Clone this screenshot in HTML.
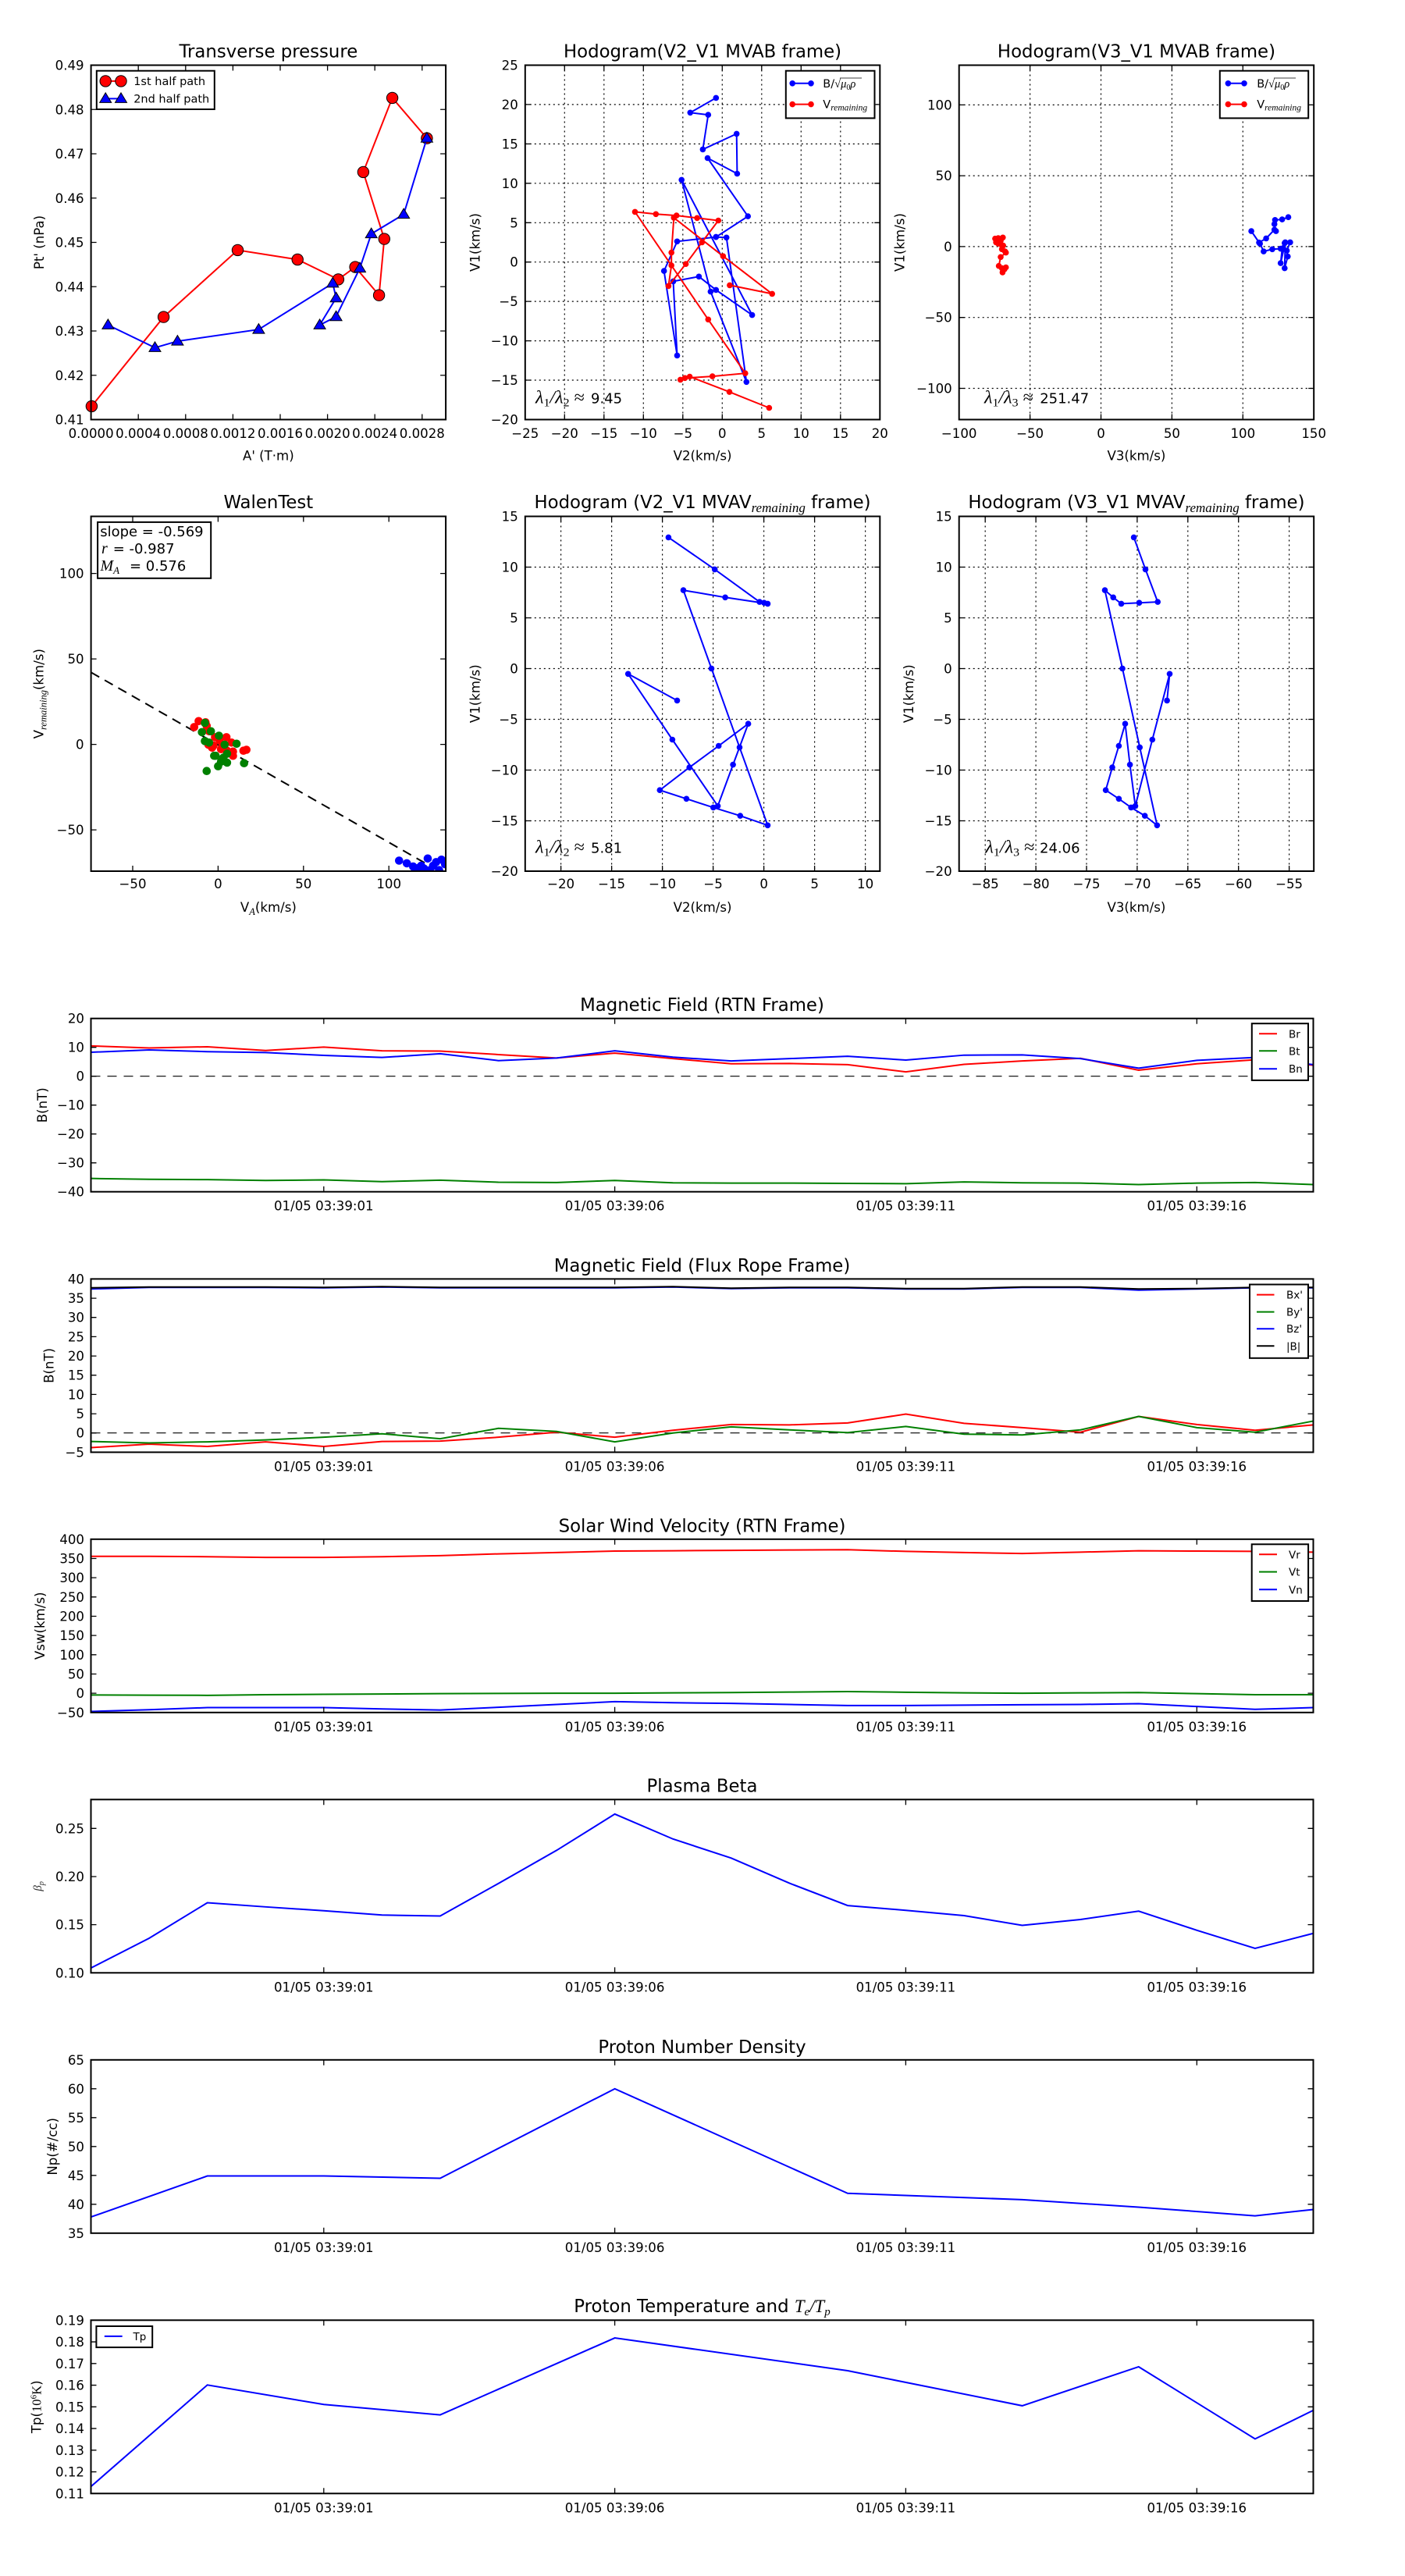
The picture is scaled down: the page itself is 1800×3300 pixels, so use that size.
<!DOCTYPE html>
<html><head><meta charset="utf-8"><style>html,body{margin:0;padding:0;background:#fff}svg{display:block}</style></head><body>
<svg xmlns="http://www.w3.org/2000/svg" width="1800" height="3300" viewBox="0 0 1800 3300" font-family="DejaVu Sans, Liberation Sans, sans-serif" font-size="16.6" fill="#000">
<defs>
<marker id="mc" markerUnits="userSpaceOnUse" markerWidth="20" markerHeight="20" refX="10" refY="10"><circle cx="10" cy="10" r="7.2" fill="#f00" stroke="#000" stroke-width="1"/></marker>
<marker id="mt" markerUnits="userSpaceOnUse" markerWidth="20" markerHeight="20" refX="10" refY="10"><polygon points="10,2.5 17.5,15 2.5,15" fill="#00f" stroke="#000" stroke-width="1"/></marker>
<marker id="db" markerUnits="userSpaceOnUse" markerWidth="10" markerHeight="10" refX="5" refY="5"><circle cx="5" cy="5" r="3.8" fill="#00f"/></marker>
<marker id="dr" markerUnits="userSpaceOnUse" markerWidth="10" markerHeight="10" refX="5" refY="5"><circle cx="5" cy="5" r="3.8" fill="#f00"/></marker>
<clipPath id="cw"><rect x="116.6" y="661.5" width="454.5" height="454.5"/></clipPath>
</defs>
<rect width="1800" height="3300" fill="#fff"/>

<!-- ============ ROW 1 ============ -->
<text x="343.85" y="73.6" font-size="22.8" text-anchor="middle">Transverse pressure</text>
<polyline fill="none" stroke="#f00" stroke-width="2" marker-start="url(#mc)" marker-mid="url(#mc)" marker-end="url(#mc)" points="117.4,520.4 209.6,406.1 304.5,320.4 381.2,332.5 433.4,357.9 455.1,342.1 485.6,378.2 492.3,306.1 465.4,220.4 502.6,125.4 546.9,177.1"/>
<polyline fill="none" stroke="#00f" stroke-width="2" marker-start="url(#mt)" marker-mid="url(#mt)" marker-end="url(#mt)" points="546.9,177.1 517.2,274.6 475.7,299.6 461.0,343.6 430.6,405.7 409.6,416.4 430.6,381.8 426.3,362.9 331.4,422.1 227.4,437.1 198.5,445.4 138.4,416.4"/>
<path stroke="#000" stroke-width="1.3" fill="none" d="M177.2 537.5v-7M237.8 537.5v-7M298.4 537.5v-7M359 537.5v-7M419.6 537.5v-7M480.2 537.5v-7M540.8 537.5v-7M177.2 83.5v7M237.8 83.5v7M298.4 83.5v7M359 83.5v7M419.6 83.5v7M480.2 83.5v7M540.8 83.5v7M116.6 140.25h7M116.6 197h7M116.6 253.75h7M116.6 310.5h7M116.6 367.25h7M116.6 424h7M116.6 480.75h7M571.1 140.25h-7M571.1 197h-7M571.1 253.75h-7M571.1 310.5h-7M571.1 367.25h-7M571.1 424h-7M571.1 480.75h-7"/>
<rect x="116.6" y="83.5" width="454.5" height="454" fill="none" stroke="#000" stroke-width="2"/>
<g text-anchor="end"><text x="107.6" y="89.5">0.49</text><text x="107.6" y="146.25">0.48</text><text x="107.6" y="203">0.47</text><text x="107.6" y="259.75">0.46</text><text x="107.6" y="316.5">0.45</text><text x="107.6" y="373.25">0.44</text><text x="107.6" y="430">0.43</text><text x="107.6" y="486.75">0.42</text><text x="107.6" y="543.5">0.41</text></g>
<g text-anchor="middle"><text x="116.6" y="561">0.0000</text><text x="177.2" y="561">0.0004</text><text x="237.8" y="561">0.0008</text><text x="298.4" y="561">0.0012</text><text x="359" y="561">0.0016</text><text x="419.6" y="561">0.0020</text><text x="480.2" y="561">0.0024</text><text x="540.8" y="561">0.0028</text></g>
<text x="343.85" y="589.5" text-anchor="middle">A' (T·m)</text>
<text transform="translate(56,310.5) rotate(-90)" text-anchor="middle">Pt' (nPa)</text>
<rect x="123.8" y="90.7" width="151" height="49.3" fill="#fff" stroke="#000" stroke-width="2"/>
<polyline fill="none" stroke="#f00" stroke-width="2" marker-start="url(#mc)" marker-end="url(#mc)" points="135.2,103.9 155,103.9"/>
<polyline fill="none" stroke="#00f" stroke-width="2" marker-start="url(#mt)" marker-end="url(#mt)" points="135.2,126.4 155,126.4"/>
<text x="171.2" y="109" font-size="14.5">1st half path</text>
<text x="171.2" y="131.5" font-size="14.5">2nd half path</text>

<!-- Hodogram V2_V1 MVAB -->
<text x="900.05" y="73.6" font-size="22.8" text-anchor="middle">Hodogram(V2_V1 MVAB frame)</text>
<path stroke="#000" stroke-width="1.2" stroke-dasharray="2,4" fill="none" d="M723.3 83.5V537.5M773.8 83.5V537.5M824.3 83.5V537.5M874.8 83.5V537.5M925.3 83.5V537.5M975.8 83.5V537.5M1026.3 83.5V537.5M1076.8 83.5V537.5M672.8 133.9H1127.3M672.8 184.4H1127.3M672.8 234.8H1127.3M672.8 285.3H1127.3M672.8 335.7H1127.3M672.8 386.1H1127.3M672.8 436.6H1127.3M672.8 487H1127.3"/>
<polyline fill="none" stroke="#00f" stroke-width="2" marker-start="url(#db)" marker-mid="url(#db)" marker-end="url(#db)" points="917.3,125.4 884.3,144.3 907.3,147.1 900.4,191.4 943.7,171.4 944.4,222.5 906.5,202.5 958.2,277.1 917.3,303.6 930.7,304.3 956.3,489.3 910.4,373.6 873.2,230.4 963.6,403.6 917.3,371.4 895.4,354.3 862.5,360.4 867.5,455.4 850.7,347.1 867.5,309.3 917.3,303.6"/>
<polyline fill="none" stroke="#f00" stroke-width="2" marker-start="url(#dr)" marker-mid="url(#dr)" marker-end="url(#dr)" points="985.4,522.5 934.5,502.1 883.6,482.5 871.7,486.4 877.5,484.3 912.7,482.1 954.8,478.2 907.3,409.3 813.5,271.4 840.3,274.3 866.7,276.1 893.1,279.3 920.3,282.5 899.3,310.4 878.6,338.2 856.4,366.4 860.2,340 860.2,323.6 863.3,278.9 926.4,328.2 989.2,376.4 934.9,365.4"/>
<path stroke="#000" stroke-width="1.3" fill="none" d="M723.3 537.5v-7M773.8 537.5v-7M824.3 537.5v-7M874.8 537.5v-7M925.3 537.5v-7M975.8 537.5v-7M1026.3 537.5v-7M1076.8 537.5v-7M723.3 83.5v7M773.8 83.5v7M824.3 83.5v7M874.8 83.5v7M925.3 83.5v7M975.8 83.5v7M1026.3 83.5v7M1076.8 83.5v7M672.8 133.9h7M672.8 184.4h7M672.8 234.8h7M672.8 285.3h7M672.8 335.7h7M672.8 386.1h7M672.8 436.6h7M672.8 487h7M1127.3 133.9h-7M1127.3 184.4h-7M1127.3 234.8h-7M1127.3 285.3h-7M1127.3 335.7h-7M1127.3 386.1h-7M1127.3 436.6h-7M1127.3 487h-7"/>
<rect x="672.8" y="83.5" width="454.5" height="454" fill="none" stroke="#000" stroke-width="2"/>
<g text-anchor="end"><text x="663.8" y="89.5">25</text><text x="663.8" y="139.9">20</text><text x="663.8" y="190.4">15</text><text x="663.8" y="240.8">10</text><text x="663.8" y="291.3">5</text><text x="663.8" y="341.7">0</text><text x="663.8" y="392.1">−5</text><text x="663.8" y="442.6">−10</text><text x="663.8" y="493">−15</text><text x="663.8" y="543.5">−20</text></g>
<g text-anchor="middle"><text x="672.8" y="561">−25</text><text x="723.3" y="561">−20</text><text x="773.8" y="561">−15</text><text x="824.3" y="561">−10</text><text x="874.8" y="561">−5</text><text x="925.3" y="561">0</text><text x="975.8" y="561">5</text><text x="1026.3" y="561">10</text><text x="1076.8" y="561">15</text><text x="1127.3" y="561">20</text></g>
<text x="900.05" y="589.5" text-anchor="middle">V2(km/s)</text>
<text transform="translate(614.5,310.5) rotate(-90)" text-anchor="middle">V1(km/s)</text>
<text x="686" y="516.5" font-family="Liberation Serif" font-size="23" textLength="63" lengthAdjust="spacingAndGlyphs"><tspan font-style="italic">λ</tspan><tspan font-size="15" dy="4">1</tspan><tspan font-style="italic" dy="-4">/λ</tspan><tspan font-size="15" dy="4">2</tspan><tspan dy="-4"> ≈</tspan></text>
<text x="757" y="516.5" font-size="18">9.45</text>
<rect x="1006.8" y="90.7" width="113.7" height="60.7" fill="#fff" stroke="#000" stroke-width="2"/>
<polyline fill="none" stroke="#00f" stroke-width="2" marker-start="url(#db)" marker-end="url(#db)" points="1015.2,106.8 1039,106.8"/>
<polyline fill="none" stroke="#f00" stroke-width="2" marker-start="url(#dr)" marker-end="url(#dr)" points="1015.2,133.6 1039,133.6"/>
<text x="1054.3" y="112" font-size="14.5">B/<tspan font-family="Liberation Serif">√</tspan><tspan font-family="Liberation Serif" font-style="italic">μ</tspan><tspan font-family="Liberation Serif" font-size="10" dy="3">0</tspan><tspan font-family="Liberation Serif" font-style="italic" dy="-3">ρ</tspan></text>
<line x1="1076" y1="100" x2="1104" y2="100" stroke="#000" stroke-width="0.8"/>
<text x="1054.3" y="138.6" font-size="14.5">V<tspan font-family="Liberation Serif" font-style="italic" font-size="11.5" dy="3">remaining</tspan></text>

<!-- Hodogram V3_V1 MVAB -->
<text x="1455.95" y="73.6" font-size="22.8" text-anchor="middle">Hodogram(V3_V1 MVAB frame)</text>
<path stroke="#000" stroke-width="1.2" stroke-dasharray="2,4" fill="none" d="M1319.6 83.5V537.5M1410.5 83.5V537.5M1501.4 83.5V537.5M1592.3 83.5V537.5M1228.7 134.35H1683.2M1228.7 225.1H1683.2M1228.7 315.9H1683.2M1228.7 406.7H1683.2M1228.7 497.5H1683.2"/>
<polyline fill="none" stroke="#00f" stroke-width="2" marker-start="url(#db)" marker-mid="url(#db)" marker-end="url(#db)" points="1650.5,278.2 1642.6,281.1 1633.5,281.8 1632.7,287.1 1634.7,296.1 1632.7,294.3 1622.1,305.4 1613,310.7 1603.1,296.1 1614.2,312.1 1618.9,322.1 1630,319.3 1640.7,318.6 1645.8,311.4 1652.9,310.4 1648.6,321.1 1649.8,328.6 1645.8,343.6 1646.6,310.4 1640.7,337.1 1642.6,318.6"/>
<polyline fill="none" stroke="#f00" stroke-width="2" marker-start="url(#dr)" marker-mid="url(#dr)" marker-end="url(#dr)" points="1284.8,304.3 1274.9,305.7 1278.9,305 1276.1,310.4 1282,308.6 1285.2,314.6 1278.9,312.1 1283.6,319.3 1287.6,322.1 1288.7,323.6 1282,329.3 1279.6,340.7 1283.6,343.6 1288.7,342.5 1284.4,348.9 1286.8,345"/>
<path stroke="#000" stroke-width="1.3" fill="none" d="M1319.6 537.5v-7M1410.5 537.5v-7M1501.4 537.5v-7M1592.3 537.5v-7M1319.6 83.5v7M1410.5 83.5v7M1501.4 83.5v7M1592.3 83.5v7M1228.7 134.35h7M1228.7 225.1h7M1228.7 315.9h7M1228.7 406.7h7M1228.7 497.5h7M1683.2 134.35h-7M1683.2 225.1h-7M1683.2 315.9h-7M1683.2 406.7h-7M1683.2 497.5h-7"/>
<rect x="1228.7" y="83.5" width="454.5" height="454" fill="none" stroke="#000" stroke-width="2"/>
<g text-anchor="end"><text x="1219.7" y="140.35">100</text><text x="1219.7" y="231.1">50</text><text x="1219.7" y="321.9">0</text><text x="1219.7" y="412.7">−50</text><text x="1219.7" y="503.5">−100</text></g>
<g text-anchor="middle"><text x="1228.7" y="561">−100</text><text x="1319.6" y="561">−50</text><text x="1410.5" y="561">0</text><text x="1501.4" y="561">50</text><text x="1592.3" y="561">100</text><text x="1683.2" y="561">150</text></g>
<text x="1455.95" y="589.5" text-anchor="middle">V3(km/s)</text>
<text transform="translate(1158.7,310.5) rotate(-90)" text-anchor="middle">V1(km/s)</text>
<text x="1261" y="516.5" font-family="Liberation Serif" font-size="23" textLength="63" lengthAdjust="spacingAndGlyphs"><tspan font-style="italic">λ</tspan><tspan font-size="15" dy="4">1</tspan><tspan font-style="italic" dy="-4">/λ</tspan><tspan font-size="15" dy="4">3</tspan><tspan dy="-4"> ≈</tspan></text>
<text x="1332.2" y="516.5" font-size="18">251.47</text>
<rect x="1562.8" y="90.7" width="113.4" height="60.7" fill="#fff" stroke="#000" stroke-width="2"/>
<polyline fill="none" stroke="#00f" stroke-width="2" marker-start="url(#db)" marker-end="url(#db)" points="1573.4,106.8 1594,106.8"/>
<polyline fill="none" stroke="#f00" stroke-width="2" marker-start="url(#dr)" marker-end="url(#dr)" points="1573.4,133.6 1594,133.6"/>
<text x="1610.2" y="112" font-size="14.5">B/<tspan font-family="Liberation Serif">√</tspan><tspan font-family="Liberation Serif" font-style="italic">μ</tspan><tspan font-family="Liberation Serif" font-size="10" dy="3">0</tspan><tspan font-family="Liberation Serif" font-style="italic" dy="-3">ρ</tspan></text>
<line x1="1632" y1="100" x2="1660" y2="100" stroke="#000" stroke-width="0.8"/>
<text x="1610.2" y="138.6" font-size="14.5">V<tspan font-family="Liberation Serif" font-style="italic" font-size="11.5" dy="3">remaining</tspan></text>

<!-- ============ ROW 2 ============ -->
<text x="343.85" y="651" font-size="22.8" text-anchor="middle">WalenTest</text>
<g clip-path="url(#cw)">
<line x1="116.7" y1="861.4" x2="562.6" y2="1115.9" stroke="#000" stroke-width="2" stroke-dasharray="12,8"/>
<g fill="#f00"><circle cx="248.8" cy="931.4" r="5.3"/><circle cx="254.5" cy="923.8" r="5.3"/><circle cx="263.3" cy="925.3" r="5.3"/><circle cx="264.8" cy="929.9" r="5.3"/><circle cx="271.7" cy="957.8" r="5.3"/><circle cx="273.6" cy="955.1" r="5.3"/><circle cx="281.3" cy="948.3" r="5.3"/><circle cx="290.1" cy="944.4" r="5.3"/><circle cx="296.6" cy="951.3" r="5.3"/><circle cx="298.5" cy="968.2" r="5.3"/><circle cx="298.5" cy="962.8" r="5.3"/><circle cx="311.9" cy="961.7" r="5.3"/><circle cx="315.7" cy="960.5" r="5.3"/><circle cx="267.9" cy="936.8" r="5.3"/><circle cx="285.1" cy="955.9" r="5.3"/><circle cx="290.9" cy="961.7" r="5.3"/><circle cx="283.2" cy="959.7" r="5.3"/><circle cx="275.5" cy="944.4" r="5.3"/><circle cx="267.1" cy="954" r="5.3"/></g>
<g fill="#008000"><circle cx="262.5" cy="926.1" r="5.3"/><circle cx="258.7" cy="937.9" r="5.3"/><circle cx="270.2" cy="936.8" r="5.3"/><circle cx="280.5" cy="942.5" r="5.3"/><circle cx="262.5" cy="949.4" r="5.3"/><circle cx="267.9" cy="951.3" r="5.3"/><circle cx="287.8" cy="954" r="5.3"/><circle cx="303.1" cy="952.8" r="5.3"/><circle cx="274.4" cy="968.2" r="5.3"/><circle cx="276.3" cy="968.2" r="5.3"/><circle cx="290.9" cy="965.5" r="5.3"/><circle cx="286.3" cy="970.5" r="5.3"/><circle cx="290.9" cy="977" r="5.3"/><circle cx="279.4" cy="981.6" r="5.3"/><circle cx="312.7" cy="977.7" r="5.3"/><circle cx="264.8" cy="987.7" r="5.3"/><circle cx="283.2" cy="975.8" r="5.3"/></g>
<g fill="#00f"><circle cx="511.3" cy="1102.5" r="5.3"/><circle cx="521.2" cy="1105.9" r="5.3"/><circle cx="529.3" cy="1110.1" r="5.3"/><circle cx="535.8" cy="1112" r="5.3"/><circle cx="548" cy="1099.8" r="5.3"/><circle cx="558.7" cy="1104.4" r="5.3"/><circle cx="565.6" cy="1101.3" r="5.3"/><circle cx="570.2" cy="1107.1" r="5.3"/><circle cx="543.4" cy="1112.8" r="5.3"/><circle cx="554.9" cy="1109" r="5.3"/><circle cx="562.6" cy="1114.7" r="5.3"/><circle cx="551.1" cy="1114.7" r="5.3"/><circle cx="532" cy="1114.7" r="5.3"/><circle cx="539.6" cy="1109" r="5.3"/></g>
</g>
<path stroke="#000" stroke-width="1.3" fill="none" d="M170 1116v-7M279.4 1116v-7M388.8 1116v-7M498.2 1116v-7M170 661.5v7M279.4 661.5v7M388.8 661.5v7M498.2 661.5v7M116.6 734.6h7M116.6 844.1h7M116.6 953.6h7M116.6 1063.1h7M571.1 734.6h-7M571.1 844.1h-7M571.1 953.6h-7M571.1 1063.1h-7"/>
<rect x="116.6" y="661.5" width="454.5" height="454.5" fill="none" stroke="#000" stroke-width="2"/>
<g text-anchor="end"><text x="107.6" y="740.6">100</text><text x="107.6" y="850.1">50</text><text x="107.6" y="959.6">0</text><text x="107.6" y="1069.1">−50</text></g>
<g text-anchor="middle"><text x="170" y="1138">−50</text><text x="279.4" y="1138">0</text><text x="388.8" y="1138">50</text><text x="498.2" y="1138">100</text></g>
<text x="343.85" y="1168" text-anchor="middle">V<tspan font-family="Liberation Serif" font-style="italic" font-size="12.5" dy="4">A</tspan><tspan dy="-4">(km/s)</tspan></text>
<text transform="translate(55.5,888.7) rotate(-90)" text-anchor="middle">V<tspan font-family="Liberation Serif" font-style="italic" font-size="12.5" dy="4">remaining</tspan><tspan dy="-4">(km/s)</tspan></text>
<rect x="125.1" y="668.9" width="145.1" height="71.9" fill="#fff" stroke="#000" stroke-width="2"/>
<text x="128.2" y="687" font-size="18">slope = -0.569</text>
<text x="130" y="709" font-size="20" font-family="Liberation Serif" font-style="italic">r</text>
<text x="144.7" y="709" font-size="18">= -0.987</text>
<text x="128.5" y="731" font-size="20" font-family="Liberation Serif" font-style="italic">M<tspan font-size="13" dy="4">A</tspan></text>
<text x="166" y="731" font-size="18">= 0.576</text>

<!-- Hodogram V2_V1 MVAV -->
<text x="900.05" y="651" font-size="22.8" text-anchor="middle">Hodogram (V2_V1 MVAV<tspan font-family="Liberation Serif" font-style="italic" font-size="17" dy="5">remaining</tspan><tspan dy="-5"> frame)</tspan></text>
<path stroke="#000" stroke-width="1.2" stroke-dasharray="2,4" fill="none" d="M718.6 661.5V1116M783.6 661.5V1116M848.6 661.5V1116M913.6 661.5V1116M978.6 661.5V1116M1043.6 661.5V1116M1108.6 661.5V1116M672.8 726.5H1127.3M672.8 791.5H1127.3M672.8 856.5H1127.3M672.8 921.5H1127.3M672.8 986.5H1127.3M672.8 1051.5H1127.3"/>
<polyline fill="none" stroke="#00f" stroke-width="2" marker-start="url(#db)" marker-mid="url(#db)" marker-end="url(#db)" points="856.4,688.4 915.7,729.4 973.1,771.1 978.9,772.2 983.5,773.4 929.1,765.3 875.5,756.1 911.5,856.4 947.5,957.4 983.5,1057.3 948.3,1045.1 913.8,1034.4 879.4,1023.3 845.3,1012.2 883.2,983.1 920.7,955.5 958.6,927.2 939.1,979.6 919.6,1032.5 861.4,947.5 804.7,863.3 867.5,897.4"/>
<path stroke="#000" stroke-width="1.3" fill="none" d="M718.6 1116v-7M783.6 1116v-7M848.6 1116v-7M913.6 1116v-7M978.6 1116v-7M1043.6 1116v-7M1108.6 1116v-7M718.6 661.5v7M783.6 661.5v7M848.6 661.5v7M913.6 661.5v7M978.6 661.5v7M1043.6 661.5v7M1108.6 661.5v7M672.8 726.5h7M672.8 791.5h7M672.8 856.5h7M672.8 921.5h7M672.8 986.5h7M672.8 1051.5h7M1127.3 726.5h-7M1127.3 791.5h-7M1127.3 856.5h-7M1127.3 921.5h-7M1127.3 986.5h-7M1127.3 1051.5h-7"/>
<rect x="672.8" y="661.5" width="454.5" height="454.5" fill="none" stroke="#000" stroke-width="2"/>
<g text-anchor="end"><text x="663.8" y="667.5">15</text><text x="663.8" y="732.5">10</text><text x="663.8" y="797.5">5</text><text x="663.8" y="862.5">0</text><text x="663.8" y="927.5">−5</text><text x="663.8" y="992.5">−10</text><text x="663.8" y="1057.5">−15</text><text x="663.8" y="1122">−20</text></g>
<g text-anchor="middle"><text x="718.6" y="1138">−20</text><text x="783.6" y="1138">−15</text><text x="848.6" y="1138">−10</text><text x="913.6" y="1138">−5</text><text x="978.6" y="1138">0</text><text x="1043.6" y="1138">5</text><text x="1108.6" y="1138">10</text></g>
<text x="900.05" y="1168" text-anchor="middle">V2(km/s)</text>
<text transform="translate(614.5,888.7) rotate(-90)" text-anchor="middle">V1(km/s)</text>
<text x="686" y="1092.5" font-family="Liberation Serif" font-size="23" textLength="63" lengthAdjust="spacingAndGlyphs"><tspan font-style="italic">λ</tspan><tspan font-size="15" dy="4">1</tspan><tspan font-style="italic" dy="-4">/λ</tspan><tspan font-size="15" dy="4">2</tspan><tspan dy="-4"> ≈</tspan></text>
<text x="757" y="1092.5" font-size="18">5.81</text>

<!-- Hodogram V3_V1 MVAV -->
<text x="1455.95" y="651" font-size="22.8" text-anchor="middle">Hodogram (V3_V1 MVAV<tspan font-family="Liberation Serif" font-style="italic" font-size="17" dy="5">remaining</tspan><tspan dy="-5"> frame)</tspan></text>
<path stroke="#000" stroke-width="1.2" stroke-dasharray="2,4" fill="none" d="M1262.2 661.5V1116M1327.1 661.5V1116M1392 661.5V1116M1456.9 661.5V1116M1521.8 661.5V1116M1586.7 661.5V1116M1651.6 661.5V1116M1228.7 726.5H1683.2M1228.7 791.5H1683.2M1228.7 856.5H1683.2M1228.7 921.5H1683.2M1228.7 986.5H1683.2M1228.7 1051.5H1683.2"/>
<polyline fill="none" stroke="#00f" stroke-width="2" marker-start="url(#db)" marker-mid="url(#db)" marker-end="url(#db)" points="1452.6,688.4 1467.5,729.4 1483.2,771.1 1459.5,772.2 1436.5,773.4 1426.2,765.3 1415.5,756.1 1438,856.4 1460.2,957.4 1482.4,1057.3 1466.7,1045.1 1449.1,1034.4 1433.4,1023.3 1416.6,1012.2 1425,983.1 1433.4,955.5 1441.5,927.2 1447.6,979.6 1454.5,1032.5 1476.3,947.5 1498.5,863.3 1495.1,897.4"/>
<path stroke="#000" stroke-width="1.3" fill="none" d="M1262.2 1116v-7M1327.1 1116v-7M1392 1116v-7M1456.9 1116v-7M1521.8 1116v-7M1586.7 1116v-7M1651.6 1116v-7M1262.2 661.5v7M1327.1 661.5v7M1392 661.5v7M1456.9 661.5v7M1521.8 661.5v7M1586.7 661.5v7M1651.6 661.5v7M1228.7 726.5h7M1228.7 791.5h7M1228.7 856.5h7M1228.7 921.5h7M1228.7 986.5h7M1228.7 1051.5h7M1683.2 726.5h-7M1683.2 791.5h-7M1683.2 856.5h-7M1683.2 921.5h-7M1683.2 986.5h-7M1683.2 1051.5h-7"/>
<rect x="1228.7" y="661.5" width="454.5" height="454.5" fill="none" stroke="#000" stroke-width="2"/>
<g text-anchor="end"><text x="1219.7" y="667.5">15</text><text x="1219.7" y="732.5">10</text><text x="1219.7" y="797.5">5</text><text x="1219.7" y="862.5">0</text><text x="1219.7" y="927.5">−5</text><text x="1219.7" y="992.5">−10</text><text x="1219.7" y="1057.5">−15</text><text x="1219.7" y="1122">−20</text></g>
<g text-anchor="middle"><text x="1262.2" y="1138">−85</text><text x="1327.1" y="1138">−80</text><text x="1392" y="1138">−75</text><text x="1456.9" y="1138">−70</text><text x="1521.8" y="1138">−65</text><text x="1586.7" y="1138">−60</text><text x="1651.6" y="1138">−55</text></g>
<text x="1455.95" y="1168" text-anchor="middle">V3(km/s)</text>
<text transform="translate(1170,888.7) rotate(-90)" text-anchor="middle">V1(km/s)</text>
<text x="1262.4" y="1092.5" font-family="Liberation Serif" font-size="23" textLength="63" lengthAdjust="spacingAndGlyphs"><tspan font-style="italic">λ</tspan><tspan font-size="15" dy="4">1</tspan><tspan font-style="italic" dy="-4">/λ</tspan><tspan font-size="15" dy="4">3</tspan><tspan dy="-4"> ≈</tspan></text>
<text x="1332" y="1092.5" font-size="18">24.06</text>

<!-- ============ TIME SERIES ============ -->
<text x="899.5" y="1295.2" font-size="22.8" text-anchor="middle">Magnetic Field (RTN Frame)</text>
<line x1="116.5" y1="1378.7" x2="1682.5" y2="1378.7" stroke="#000" stroke-width="1.2" stroke-dasharray="12,9"/>
<g transform="translate(116.5,1378.7) scale(74.571,-3.7)" fill="none" stroke-width="2">
<polyline vector-effect="non-scaling-stroke" stroke="#f00" points="0,10.5 1,9.8 2,10.2 3,8.9 4,10.1 5,8.8 6,8.7 7,7.5 8,6.3 9,8 10,6.1 11,4.3 12,4.4 13,4 14,1.5 15,4.1 16,5.3 17,6.2 18,2.1 19,4.3 20,5.7 21,3.8"/>
<polyline vector-effect="non-scaling-stroke" stroke="#008000" points="0,-35.4 1,-35.7 2,-35.8 3,-36.1 4,-35.9 5,-36.5 6,-36 7,-36.7 8,-36.8 9,-36.1 10,-36.9 11,-37 12,-37 13,-37.1 14,-37.2 15,-36.6 16,-36.9 17,-37 18,-37.5 19,-37 20,-36.8 21,-37.5"/>
<polyline vector-effect="non-scaling-stroke" stroke="#00f" points="0,8.3 1,9.1 2,8.5 3,8.2 4,7.2 5,6.5 6,7.8 7,5.4 8,6.3 9,8.8 10,6.6 11,5.3 12,6.1 13,6.9 14,5.6 15,7.3 16,7.4 17,6.1 18,2.8 19,5.5 20,6.5 21,4"/>
</g>
<path stroke="#000" stroke-width="1.3" fill="none" d="M414.8 1526.7v-7M787.6 1526.7v-7M1160.4 1526.7v-7M1533.3 1526.7v-7M414.8 1304.7v7M787.6 1304.7v7M1160.4 1304.7v7M1533.3 1304.7v7M116.5 1341.7h7M116.5 1378.7h7M116.5 1415.7h7M116.5 1452.7h7M116.5 1489.7h7M1682.5 1341.7h-7M1682.5 1378.7h-7M1682.5 1415.7h-7M1682.5 1452.7h-7M1682.5 1489.7h-7"/>
<rect x="116.5" y="1304.7" width="1566" height="222" fill="none" stroke="#000" stroke-width="2"/>
<g text-anchor="end"><text x="108" y="1310.7">20</text><text x="108" y="1347.7">10</text><text x="108" y="1384.7">0</text><text x="108" y="1421.7">−10</text><text x="108" y="1458.7">−20</text><text x="108" y="1495.7">−30</text><text x="108" y="1532.7">−40</text></g>
<g text-anchor="middle"><text x="414.8" y="1550.7">01/05 03:39:01</text><text x="787.6" y="1550.7">01/05 03:39:06</text><text x="1160.4" y="1550.7">01/05 03:39:11</text><text x="1533.3" y="1550.7">01/05 03:39:16</text></g>
<text transform="translate(60,1415.7) rotate(-90)" text-anchor="middle">B(nT)</text>
<rect x="1603.8" y="1311.2" width="72.2" height="72.7" fill="#fff" stroke="#000" stroke-width="2"/>
<path stroke-width="2" d="M1613 1324.3h23" stroke="#f00"/><path stroke-width="2" d="M1613 1346.3h23" stroke="#008000"/><path stroke-width="2" d="M1613 1369.2h23" stroke="#00f"/>
<g font-size="13.5"><text x="1651" y="1329.3">Br</text><text x="1651" y="1351.3">Bt</text><text x="1651" y="1374.2">Bn</text></g>

<text x="899.5" y="1628.9" font-size="22.8" text-anchor="middle">Magnetic Field (Flux Rope Frame)</text>
<line x1="116.5" y1="1835.7" x2="1682.5" y2="1835.7" stroke="#000" stroke-width="1.2" stroke-dasharray="12,9"/>
<g transform="translate(116.5,1835.73) scale(74.571,-4.9333)" fill="none" stroke-width="2">
<polyline vector-effect="non-scaling-stroke" stroke="#f00" points="0,-3.8 1,-2.9 2,-3.5 3,-2.3 4,-3.5 5,-2.2 6,-2.1 7,-1.1 8,0.2 9,-1.1 10,0.7 11,2.2 12,2.1 13,2.6 14,4.9 15,2.5 16,1.4 17,0.2 18,4.3 19,2.2 20,0.7 21,2.1"/>
<polyline vector-effect="non-scaling-stroke" stroke="#008000" points="0,-2.2 1,-2.6 2,-2.3 3,-1.8 4,-1.1 5,-0.2 6,-1.5 7,1.2 8,0.4 9,-2.3 10,0 11,1.6 12,0.8 13,0.1 14,1.7 15,-0.3 16,-0.5 17,0.8 18,4.3 19,1.4 20,0.2 21,3.1"/>
<polyline vector-effect="non-scaling-stroke" stroke="#00f" points="0,37.4 1,37.8 2,37.8 3,37.8 4,37.7 5,37.9 6,37.7 7,37.7 8,37.7 9,37.7 10,37.9 11,37.5 12,37.7 13,37.7 14,37.4 15,37.4 16,37.8 17,37.8 18,37.1 19,37.4 20,37.7 21,37.7"/>
<polyline vector-effect="non-scaling-stroke" stroke="#000" points="0,37.7 1,37.9 2,37.9 3,37.9 4,37.8 5,38 6,37.8 7,37.8 8,37.8 9,37.8 10,38 11,37.6 12,37.8 13,37.8 14,37.5 15,37.5 16,37.9 17,37.9 18,37.4 19,37.5 20,37.8 21,37.8"/>
</g>
<path stroke="#000" stroke-width="1.3" fill="none" d="M414.8 1860.4v-7M787.6 1860.4v-7M1160.4 1860.4v-7M1533.3 1860.4v-7M414.8 1638.4v7M787.6 1638.4v7M1160.4 1638.4v7M1533.3 1638.4v7M116.5 1663.1h7M116.5 1687.7h7M116.5 1712.4h7M116.5 1737.1h7M116.5 1761.7h7M116.5 1786.4h7M116.5 1811.1h7M116.5 1835.7h7M1682.5 1663.1h-7M1682.5 1687.7h-7M1682.5 1712.4h-7M1682.5 1737.1h-7M1682.5 1761.7h-7M1682.5 1786.4h-7M1682.5 1811.1h-7M1682.5 1835.7h-7"/>
<rect x="116.5" y="1638.4" width="1566" height="222" fill="none" stroke="#000" stroke-width="2"/>
<g text-anchor="end"><text x="108" y="1644.4">40</text><text x="108" y="1669.1">35</text><text x="108" y="1693.7">30</text><text x="108" y="1718.4">25</text><text x="108" y="1743.1">20</text><text x="108" y="1767.7">15</text><text x="108" y="1792.4">10</text><text x="108" y="1817.1">5</text><text x="108" y="1841.7">0</text><text x="108" y="1866.4">−5</text></g>
<g text-anchor="middle"><text x="414.8" y="1884.4">01/05 03:39:01</text><text x="787.6" y="1884.4">01/05 03:39:06</text><text x="1160.4" y="1884.4">01/05 03:39:11</text><text x="1533.3" y="1884.4">01/05 03:39:16</text></g>
<text transform="translate(68.7,1749.4) rotate(-90)" text-anchor="middle">B(nT)</text>
<rect x="1601" y="1645.5" width="75" height="94.3" fill="#fff" stroke="#000" stroke-width="2"/>
<path stroke-width="2" d="M1610 1658.6h22.5" stroke="#f00"/><path stroke-width="2" d="M1610 1680.6h22.5" stroke="#008000"/><path stroke-width="2" d="M1610 1702.2h22.5" stroke="#00f"/><path stroke-width="2" d="M1610 1724.3h22.5" stroke="#000"/>
<g font-size="13.5"><text x="1648" y="1663.6">Bx'</text><text x="1648" y="1685.6">By'</text><text x="1648" y="1707.2">Bz'</text><text x="1648" y="1729.3">|B|</text></g>

<text x="899.5" y="1962.5" font-size="22.8" text-anchor="middle">Solar Wind Velocity (RTN Frame)</text>
<g transform="translate(116.5,2169.13) scale(74.571,-0.49333)" fill="none" stroke-width="2">
<polyline vector-effect="non-scaling-stroke" stroke="#f00" points="0,355.5 1,355.5 2,354.6 3,352.8 4,352.8 5,354.6 6,357.4 7,361.9 8,365.5 9,369.2 10,370 11,371 12,372 13,372.8 14,368.3 15,365.5 16,362.8 17,366.4 18,370 19,369.2 20,368.3 21,366.4"/>
<polyline vector-effect="non-scaling-stroke" stroke="#008000" points="0,-4.6 1,-5 2,-5.5 3,-3.7 4,-2.8 5,-1.9 6,-1 7,-0.5 8,0 9,0 10,1 11,1.7 12,3 13,4.4 14,2.6 15,1 16,0 17,1 18,1.8 19,-1 20,-3.7 21,-3.7"/>
<polyline vector-effect="non-scaling-stroke" stroke="#00f" points="0,-47.3 1,-42.7 2,-37.3 3,-37.3 4,-37.3 5,-40.9 6,-43.6 7,-36.4 8,-29.1 9,-21.9 10,-24.6 11,-26.4 12,-29.1 13,-31.8 14,-31.8 15,-30.9 16,-30 17,-29.1 18,-27.2 19,-34.5 20,-41.8 21,-37.3"/>
</g>
<path stroke="#000" stroke-width="1.3" fill="none" d="M414.8 2193.8v-7M787.6 2193.8v-7M1160.4 2193.8v-7M1533.3 2193.8v-7M414.8 1971.8v7M787.6 1971.8v7M1160.4 1971.8v7M1533.3 1971.8v7M116.5 1996.5h7M116.5 2021.1h7M116.5 2045.8h7M116.5 2070.5h7M116.5 2095.1h7M116.5 2119.8h7M116.5 2144.5h7M116.5 2169.1h7M1682.5 1996.5h-7M1682.5 2021.1h-7M1682.5 2045.8h-7M1682.5 2070.5h-7M1682.5 2095.1h-7M1682.5 2119.8h-7M1682.5 2144.5h-7M1682.5 2169.1h-7"/>
<rect x="116.5" y="1971.8" width="1566" height="222" fill="none" stroke="#000" stroke-width="2"/>
<g text-anchor="end"><text x="108" y="1977.8">400</text><text x="108" y="2002.5">350</text><text x="108" y="2027.1">300</text><text x="108" y="2051.8">250</text><text x="108" y="2076.5">200</text><text x="108" y="2101.1">150</text><text x="108" y="2125.8">100</text><text x="108" y="2150.5">50</text><text x="108" y="2175.1">0</text><text x="108" y="2199.8">−50</text></g>
<g text-anchor="middle"><text x="414.8" y="2217.8">01/05 03:39:01</text><text x="787.6" y="2217.8">01/05 03:39:06</text><text x="1160.4" y="2217.8">01/05 03:39:11</text><text x="1533.3" y="2217.8">01/05 03:39:16</text></g>
<text transform="translate(57.2,2082.8) rotate(-90)" text-anchor="middle">Vsw(km/s)</text>
<rect x="1603.7" y="1978.3" width="72.4" height="72.7" fill="#fff" stroke="#000" stroke-width="2"/>
<path stroke-width="2" d="M1613 1991.3h23" stroke="#f00"/><path stroke-width="2" d="M1613 2013.6h23" stroke="#008000"/><path stroke-width="2" d="M1613 2036.3h23" stroke="#00f"/>
<g font-size="13.5"><text x="1651" y="1996.3">Vr</text><text x="1651" y="2018.6">Vt</text><text x="1651" y="2041.3">Vn</text></g>

<text x="899.5" y="2295.5" font-size="22.8" text-anchor="middle">Plasma Beta</text>
<g transform="translate(116.5,2650.63) scale(74.571,-1233.33)" fill="none" stroke-width="2">
<polyline vector-effect="non-scaling-stroke" stroke="#00f" points="0,0.105 1,0.1359 2,0.1728 3,0.1685 4,0.1645 5,0.16 6,0.159 7,0.1928 8,0.2272 9,0.2649 10,0.239 11,0.2192 12,0.1931 13,0.1699 14,0.1649 15,0.1594 16,0.1493 17,0.1554 18,0.1641 19,0.1442 20,0.1254 21,0.141"/>
</g>
<path stroke="#000" stroke-width="1.3" fill="none" d="M414.8 2527.3v-7M787.6 2527.3v-7M1160.4 2527.3v-7M1533.3 2527.3v-7M414.8 2305.3v7M787.6 2305.3v7M1160.4 2305.3v7M1533.3 2305.3v7M116.5 2342.3h7M116.5 2404h7M116.5 2465.6h7M1682.5 2342.3h-7M1682.5 2404h-7M1682.5 2465.6h-7"/>
<rect x="116.5" y="2305.3" width="1566" height="222" fill="none" stroke="#000" stroke-width="2"/>
<g text-anchor="end"><text x="108" y="2348.3">0.25</text><text x="108" y="2410">0.20</text><text x="108" y="2471.6">0.15</text><text x="108" y="2533.3">0.10</text></g>
<g text-anchor="middle"><text x="414.8" y="2551.3">01/05 03:39:01</text><text x="787.6" y="2551.3">01/05 03:39:06</text><text x="1160.4" y="2551.3">01/05 03:39:11</text><text x="1533.3" y="2551.3">01/05 03:39:16</text></g>
<text transform="translate(53,2416.3) rotate(-90)" text-anchor="middle" font-family="Liberation Serif" font-style="italic" font-size="15" fill="#333">β<tspan font-size="10.5" dy="3">p</tspan></text>

<text x="899.5" y="2629.8" font-size="22.8" text-anchor="middle">Proton Number Density</text>
<g transform="translate(116.5,3119.8) scale(74.571,-7.4)" fill="none" stroke-width="2">
<polyline vector-effect="non-scaling-stroke" stroke="#00f" points="0,37.8 2,44.9 4,44.9 6,44.5 9,60 13,41.9 16,40.8 18,39.5 20,38 21,39.1"/>
</g>
<path stroke="#000" stroke-width="1.3" fill="none" d="M414.8 2860.8v-7M787.6 2860.8v-7M1160.4 2860.8v-7M1533.3 2860.8v-7M414.8 2638.8v7M787.6 2638.8v7M1160.4 2638.8v7M1533.3 2638.8v7M116.5 2675.8h7M116.5 2712.8h7M116.5 2749.8h7M116.5 2786.8h7M116.5 2823.8h7M1682.5 2675.8h-7M1682.5 2712.8h-7M1682.5 2749.8h-7M1682.5 2786.8h-7M1682.5 2823.8h-7"/>
<rect x="116.5" y="2638.8" width="1566" height="222" fill="none" stroke="#000" stroke-width="2"/>
<g text-anchor="end"><text x="108" y="2644.8">65</text><text x="108" y="2681.8">60</text><text x="108" y="2718.8">55</text><text x="108" y="2755.8">50</text><text x="108" y="2792.8">45</text><text x="108" y="2829.8">40</text><text x="108" y="2866.8">35</text></g>
<g text-anchor="middle"><text x="414.8" y="2884.8">01/05 03:39:01</text><text x="787.6" y="2884.8">01/05 03:39:06</text><text x="1160.4" y="2884.8">01/05 03:39:11</text><text x="1533.3" y="2884.8">01/05 03:39:16</text></g>
<text transform="translate(73.2,2749.8) rotate(-90)" text-anchor="middle">Np(#/cc)</text>

<text x="899.5" y="2962" font-size="22.8" text-anchor="middle">Proton Temperature and <tspan font-family="Liberation Serif" font-style="italic">T</tspan><tspan font-family="Liberation Serif" font-style="italic" font-size="15" dy="4">e</tspan><tspan font-family="Liberation Serif" font-style="italic" dy="-4">/T</tspan><tspan font-family="Liberation Serif" font-style="italic" font-size="15" dy="4">p</tspan></text>
<g transform="translate(116.5,3499.55) scale(74.571,-2775)" fill="none" stroke-width="2">
<polyline vector-effect="non-scaling-stroke" stroke="#00f" points="0,0.1132 2,0.1601 4,0.1511 6,0.1463 9,0.1818 13,0.1667 16,0.1505 18,0.1685 20,0.1352 21,0.1484"/>
</g>
<path stroke="#000" stroke-width="1.3" fill="none" d="M414.8 3194.3v-7M787.6 3194.3v-7M1160.4 3194.3v-7M1533.3 3194.3v-7M414.8 2972.3v7M787.6 2972.3v7M1160.4 2972.3v7M1533.3 2972.3v7M116.5 3000.05h7M116.5 3027.8h7M116.5 3055.55h7M116.5 3083.3h7M116.5 3111.05h7M116.5 3138.8h7M116.5 3166.55h7M1682.5 3000.05h-7M1682.5 3027.8h-7M1682.5 3055.55h-7M1682.5 3083.3h-7M1682.5 3111.05h-7M1682.5 3138.8h-7M1682.5 3166.55h-7"/>
<rect x="116.5" y="2972.3" width="1566" height="222" fill="none" stroke="#000" stroke-width="2"/>
<g text-anchor="end"><text x="108" y="2978.3">0.19</text><text x="108" y="3006.05">0.18</text><text x="108" y="3033.8">0.17</text><text x="108" y="3061.55">0.16</text><text x="108" y="3089.3">0.15</text><text x="108" y="3117.05">0.14</text><text x="108" y="3144.8">0.13</text><text x="108" y="3172.55">0.12</text><text x="108" y="3200.3">0.11</text></g>
<g text-anchor="middle"><text x="414.8" y="3218.3">01/05 03:39:01</text><text x="787.6" y="3218.3">01/05 03:39:06</text><text x="1160.4" y="3218.3">01/05 03:39:11</text><text x="1533.3" y="3218.3">01/05 03:39:16</text></g>
<text transform="translate(52.5,3083.3) rotate(-90)" text-anchor="middle">Tp(<tspan font-family="Liberation Serif">10</tspan><tspan font-family="Liberation Serif" font-size="11" dy="-6">6</tspan><tspan font-family="Liberation Serif" dy="6">K</tspan>)</text>
<rect x="123.4" y="2980" width="71.8" height="27.1" fill="#fff" stroke="#000" stroke-width="2"/>
<path stroke-width="2" d="M133.8 2992.9h22.9" stroke="#00f"/>
<text x="170.5" y="2997.9" font-size="13.5">Tp</text>
</svg>
</body></html>
